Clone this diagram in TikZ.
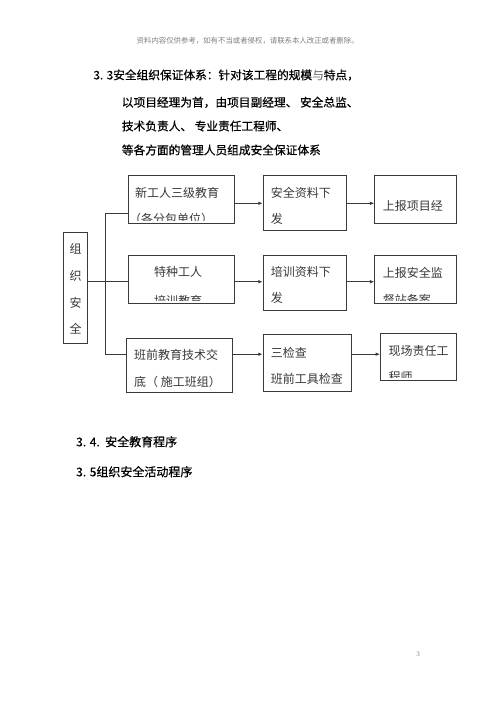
\documentclass[tikz,border=0pt]{standalone}
\usepackage{fontspec}
\setmainfont{Liberation Serif}
\newfontfamily\cjk{Noto Sans CJK SC}
\newfontfamily\cjkh[FakeBold=0.6]{Noto Sans CJK SC}
\usetikzlibrary{arrows.meta}
\definecolor{boxgray}{HTML}{3A3A3A}
\definecolor{txtgray}{HTML}{383838}
\begin{document}
\begin{tikzpicture}[x=1pt,y=-1pt,
  box/.style={draw=boxgray,line width=1pt,inner sep=0pt,rectangle},
  btxt/.style={anchor=west,inner sep=0pt,text=txtgray,font=\cjk\fontsize{12}{14}\selectfont},
  htxt/.style={anchor=west,inner sep=0pt,text=black,font=\cjkh\fontsize{11.7}{14}\selectfont},
  link/.style={draw=boxgray,line width=0.9pt},
  arr/.style={link,-{Latex[length=4.5pt,width=3.5pt]}}]
\useasboundingbox (0,0) rectangle (500,707);
\fill[white] (0,0) rectangle (500,707);

% page header and footer
\node[anchor=west,inner sep=0pt,text=gray,font=\cjk\fontsize{7.4}{9}\selectfont] (hdr) at (136.5,40.7) {资料内容仅供参考，如有不当或者侵权，请联系本人改正或者删除。};
\node[inner sep=0pt,text=gray,font=\fontsize{7}{8}\selectfont] (pg) at (418,654) {3};

% heading paragraph
\node[htxt] (h1) at (93.3,75) {3. 3安全组织保证体系：针对该工程的规模{\color{gray}与}特点，};
\node[htxt] (h2) at (121.7,102.3) {以项目经理为首，由项目副经理、 安全总监、};
\node[htxt] (h3) at (121.7,126) {技术负责人、 专业责任工程师、};
\node[htxt] (h4) at (121.7,150) {等各方面的管理人员组成安全保证体系};

% boxes
\node[box,minimum width=24pt,minimum height=111pt] (L) at (75,287.5) {};
\node[box,minimum width=106pt,minimum height=47.6pt] (b1) at (181.3,199.5) {};
\node[box,minimum width=106pt,minimum height=47.6pt] (b2) at (181,279.5) {};
\node[box,minimum width=105.6pt,minimum height=54.4pt] (b3) at (179.5,365.5) {};
\node[box,minimum width=82.7pt,minimum height=55.3pt] (c1) at (304.7,203.3) {};
\node[box,minimum width=82.7pt,minimum height=55.3pt] (c2) at (304.7,283.3) {};
\node[box,minimum width=88.4pt,minimum height=56.7pt] (c3) at (307.5,363.3) {};
\node[box,minimum width=81.7pt,minimum height=48.3pt] (d1) at (415.8,199.2) {};
\node[box,minimum width=81.7pt,minimum height=47.6pt] (d2) at (415.8,279.5) {};
\node[box,minimum width=76pt,minimum height=47.4pt] (d3) at (418.7,357) {};

% left box text
\node[btxt,anchor=center] (l1) at (75.7,249) {组};
\node[btxt,anchor=center] (l2) at (75.7,276) {织};
\node[btxt,anchor=center] (l3) at (75.7,303) {安};
\node[btxt,anchor=center] (l4) at (75.7,328.5) {全};

% box texts
\begin{scope}
\clip (b1.north west) rectangle ([yshift=3.5pt]b1.south east);
\node[btxt] (t1a) at (135,193.3) {新工人三级教育};
\node[btxt] (t1b) at (129,219) {（各分包单位）};
\end{scope}
\begin{scope}
\clip (b2.north west) rectangle ([yshift=3.5pt]b2.south east);
\node[btxt,anchor=center] (t2a) at (178,271.7) {特种工人};
\node[btxt,anchor=center] (t2b) at (178,300.5) {培训教育};
\end{scope}
\node[btxt] (t3a) at (134,355) {班前教育技术交};
\node[btxt] (t3b) at (134,381.7) {底（ 施工班组）};

\node[btxt] (u1a) at (270.7,193.3) {安全资料下};
\node[btxt] (u1b) at (270.7,219.3) {发};
\node[btxt] (u2a) at (270.7,271.7) {培训资料下};
\node[btxt] (u2b) at (270.7,298.3) {发};
\node[btxt] (u3a) at (270.7,352.7) {三检查};
\node[btxt] (u3b) at (270.7,379.3) {班前工具检查};

\node[btxt] (v1a) at (382.7,206) {上报项目经};
\begin{scope}
\clip (d2.north west) rectangle ([yshift=3.5pt]d2.south east);
\node[btxt] (v2a) at (382.7,273.3) {上报安全监};
\node[btxt] (v2b) at (382.7,299.5) {督站备案};
\end{scope}
\begin{scope}
\clip (d3.north west) rectangle ([yshift=3.5pt]d3.south east);
\node[btxt] (v3a) at (388.3,351) {现场责任工};
\node[btxt] (v3b) at (388.3,376.5) {程师};
\end{scope}

% connectors
\coordinate (jt) at (105,213);
\coordinate (jm) at (105,281.7);
\coordinate (jb) at (105,354.2);
\draw[link] (jt) -- (jb);
\draw[link] (L.east|-jm) -- (b2.west|-jm);
\draw[link] (jt) -- (b1.west|-jt);
\draw[link] (jb) -- (b3.west|-jb);
\draw[arr] (b1.east|-c1.west) -- (c1.west);
\draw[arr] (c1.east) -- (d1.west|-c1.east);
\draw[arr] (b2.east|-jm) -- (c2.west|-jm);
\draw[arr] (c2.east|-jm) -- (d2.west|-jm);
\draw[arr] (b3.east|-jb) -- (c3.west|-jb);
\draw[arr] (c3.east|-jb) -- (d3.west|-jb);

% lower headings
\node[htxt,font=\cjkh\fontsize{12}{14}\selectfont] (s34) at (76,441.7) {3. 4.~~安全教育程序};
\node[htxt,font=\cjkh\fontsize{12}{14}\selectfont] (s35) at (76,471.7) {3. 5组织安全活动程序};
\end{tikzpicture}
\end{document}
